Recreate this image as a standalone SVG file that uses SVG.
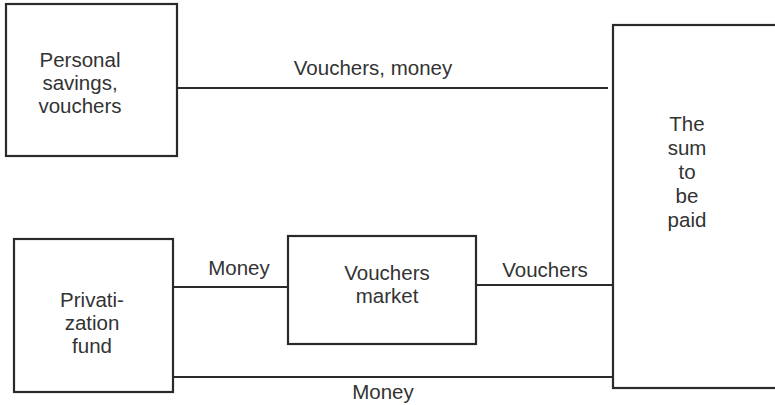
<svg xmlns="http://www.w3.org/2000/svg" width="775" height="405" viewBox="0 0 775 405">
<style>
.box{fill:none;stroke:#2a2a2a;stroke-width:2.2}
.ln{fill:none;stroke:#2a2a2a;stroke-width:2}
text{font-family:"Liberation Sans",Arial,sans-serif;font-size:20.5px;fill:#333;text-anchor:middle}
</style>
<rect width="775" height="405" fill="#fff"/>
<g id="connectors">
<line class="ln" x1="177" y1="88" x2="608" y2="88"/>
<text x="373" y="75">Vouchers, money</text>
<line class="ln" x1="173" y1="287" x2="288" y2="287"/>
<text x="239" y="275">Money</text>
<line class="ln" x1="476" y1="285" x2="614" y2="285"/>
<text x="545" y="277">Vouchers</text>
<line class="ln" x1="173" y1="377" x2="613" y2="377"/>
<text x="383" y="399">Money</text>
</g>
<g id="personal">
<rect class="box" x="6" y="4" width="171" height="152"/>
<text x="80" y="67">Personal</text>
<text x="80" y="90">savings,</text>
<text x="80" y="113">vouchers</text>
</g>
<g id="fund">
<rect class="box" x="14" y="239" width="159" height="153"/>
<text x="92" y="307">Privati-</text>
<text x="92" y="330">zation</text>
<text x="92" y="353">fund</text>
</g>
<g id="market">
<rect class="box" x="288" y="236" width="188" height="108"/>
<text x="387" y="280">Vouchers</text>
<text x="387" y="303">market</text>
</g>
<g id="sum">
<rect class="box" x="613" y="25" width="180" height="363"/>
<text x="687" y="131">The</text>
<text x="687" y="155">sum</text>
<text x="687" y="179">to</text>
<text x="687" y="203">be</text>
<text x="687" y="227">paid</text>
</g>
</svg>
